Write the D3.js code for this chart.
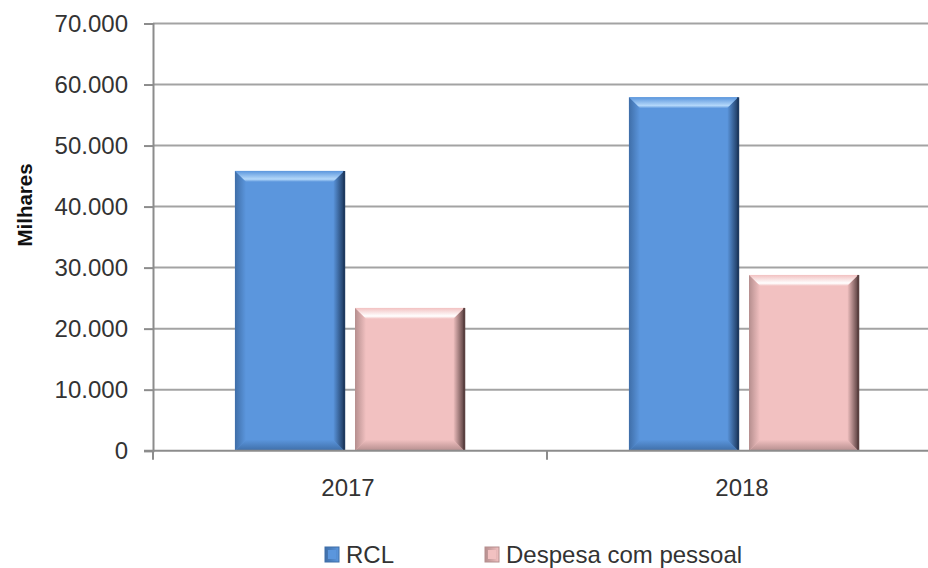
<!DOCTYPE html>
<html>
<head>
<meta charset="utf-8">
<script src="https://cdn.jsdelivr.net/npm/d3@7"></script>
<style>
  body { margin: 0; background: #fff; }
  svg { display: block; font-family: "Liberation Sans", Arial, sans-serif; }
</style>
</head>
<body>
<svg width="928" height="568"></svg>
<script>
// data (milhares)
const years = ["2017", "2018"];
const series = ["RCL", "Despesa com pessoal"];
const rcl = [45850, 57900];
const despesa = [23400, 28800];
const yTicks = [0, 10000, 20000, 30000, 40000, 50000, 60000, 70000];

const colors = {
  "RCL": { main: "#5b96dd", light: "#b4d8fa", dark: "#1e3a60", shade: "#3f6ea8" },
  "Despesa com pessoal": { main: "#f2c1c1", light: "#ffffff", dark: "#5a4040", shade: "#b58e8e" }
};

const svg = d3.select("svg"),
    width = +svg.attr("width"),
    height = +svg.attr("height");

const plotLeft = 153, plotTop = 23.5, plotBottom = 450.7;

const ptBR = d3.formatLocale({ decimal: ",", thousands: ".", grouping: [3], currency: ["R$", ""] });
const fmt = ptBR.format(",.0f");

const y = d3.scaleLinear().domain([0, 70000]).range([plotBottom, plotTop]);
const x0 = d3.scaleBand().domain(years).range([plotLeft, plotLeft + 2 * 394]);
const x1 = d3.scaleBand().domain(series)
    .range([x0.bandwidth() * 0.208, x0.bandwidth() * 0.79])
    .paddingInner(0.09);

const rows = years.map((yr, i) => ({ year: yr, values: [
  { key: series[0], value: rcl[i] },
  { key: series[1], value: despesa[i] }
]}));

// gradients for the bevel facets
const defs = svg.append("defs");
series.forEach((s, i) => {
  const c = colors[s];
  const topG = defs.append("linearGradient").attr("id", "top" + i).attr("x1", 0).attr("y1", 0).attr("x2", 0).attr("y2", 1);
  topG.append("stop").attr("offset", "0%").attr("stop-color", c.main);
  topG.append("stop").attr("offset", "75%").attr("stop-color", c.light);
  topG.append("stop").attr("offset", "100%").attr("stop-color", c.main);
  const rightG = defs.append("linearGradient").attr("id", "right" + i).attr("x1", 0).attr("y1", 0).attr("x2", 1).attr("y2", 0);
  rightG.append("stop").attr("offset", "0%").attr("stop-color", c.main);
  rightG.append("stop").attr("offset", "100%").attr("stop-color", c.dark);
  const leftG = defs.append("linearGradient").attr("id", "left" + i).attr("x1", 0).attr("y1", 0).attr("x2", 1).attr("y2", 0);
  leftG.append("stop").attr("offset", "0%").attr("stop-color", c.shade);
  leftG.append("stop").attr("offset", "100%").attr("stop-color", c.main);
  const botG = defs.append("linearGradient").attr("id", "bot" + i).attr("x1", 0).attr("y1", 0).attr("x2", 0).attr("y2", 1);
  botG.append("stop").attr("offset", "0%").attr("stop-color", c.main);
  botG.append("stop").attr("offset", "100%").attr("stop-color", c.shade);
});

// gridlines
svg.append("g")
  .selectAll("line")
  .data(yTicks.slice(1))
  .enter().append("line")
  .attr("x1", plotLeft).attr("x2", width)
  .attr("y1", d => y(d)).attr("y2", d => y(d))
  .attr("stroke", "#a3a3a3").attr("stroke-width", 2);

// y axis
const yAxis = svg.append("g")
  .attr("transform", `translate(${plotLeft},0)`)
  .call(d3.axisLeft(y).tickValues(yTicks).tickFormat(fmt).tickSize(9).tickPadding(16));
yAxis.select(".domain").attr("stroke", "#8c8c8c").attr("stroke-width", 2);
yAxis.selectAll(".tick line").attr("stroke", "#8c8c8c").attr("stroke-width", 2);
yAxis.selectAll(".tick text").attr("font-size", 24).attr("fill", "#333").attr("font-family", "Liberation Sans, Arial, sans-serif");

svg.append("text")
  .attr("transform", "translate(32,205) rotate(-90)")
  .attr("text-anchor", "middle")
  .attr("font-size", 20.5).attr("font-weight", "bold").attr("fill", "#111")
  .text("Milhares");

// bars
const group = svg.append("g")
  .selectAll("g")
  .data(rows)
  .enter().append("g")
  .attr("transform", d => `translate(${x0(d.year)},0)`);

const b = 11;
const bar = group.selectAll("g")
  .data(d => d.values)
  .enter().append("g");

bar.each(function (d) {
  const i = series.indexOf(d.key);
  const g = d3.select(this);
  const xa = x1(d.key), xb = xa + x1.bandwidth();
  const ya = y(d.value), yb = y(0);
  g.append("rect").attr("x", xa).attr("y", ya).attr("width", xb - xa).attr("height", yb - ya)
    .attr("fill", colors[d.key].main);
  const poly = (pts, fill) => g.append("polygon")
    .attr("points", pts.map(p => p.join(",")).join(" ")).attr("fill", fill);
  poly([[xa, ya], [xb, ya], [xb - b, ya + b], [xa + b, ya + b]], `url(#top${i})`);
  poly([[xa, yb], [xb, yb], [xb - b, yb - b], [xa + b, yb - b]], `url(#bot${i})`);
  poly([[xa, ya], [xa + b, ya + b], [xa + b, yb - b], [xa, yb]], `url(#left${i})`);
  poly([[xb, ya], [xb, yb], [xb - b, yb - b], [xb - b, ya + b]], `url(#right${i})`);
  g.append("line").attr("x1", xb).attr("x2", xb).attr("y1", ya).attr("y2", yb)
    .attr("stroke", colors[d.key].dark).attr("stroke-width", 2);
});

// x axis
const xAxis = svg.append("g")
  .attr("transform", `translate(0,${plotBottom})`);
xAxis.append("line")
  .attr("x1", plotLeft - 9).attr("x2", width)
  .attr("stroke", "#8c8c8c").attr("stroke-width", 2);
xAxis.selectAll(".sep")
  .data(years.concat(["end"]))
  .enter().append("line")
  .attr("x1", (d, i) => plotLeft + i * x0.step()).attr("x2", (d, i) => plotLeft + i * x0.step())
  .attr("y1", 0).attr("y2", 9)
  .attr("stroke", "#8c8c8c").attr("stroke-width", 2);
xAxis.selectAll(".lbl")
  .data(years)
  .enter().append("text")
  .attr("x", d => x0(d) + x0.bandwidth() / 2 - 2)
  .attr("y", 45)
  .attr("text-anchor", "middle")
  .attr("font-size", 24).attr("fill", "#333")
  .text(d => d);

// legend
const legendX = [325, 485];
const legend = svg.append("g")
  .selectAll("g")
  .data(series)
  .enter().append("g")
  .attr("transform", (d, i) => `translate(${legendX[i]},547)`);
legend.append("rect")
  .attr("width", 14).attr("height", 15)
  .attr("fill", (d, i) => `url(#left${i})`)
  .attr("stroke", d => colors[d].shade).attr("stroke-width", 1);
legend.append("rect")
  .attr("x", 3).attr("y", 3).attr("width", 8).attr("height", 9)
  .attr("fill", d => colors[d].main);
legend.append("text")
  .attr("x", 21).attr("y", 15.5)
  .attr("font-size", 24).attr("fill", "#333")
  .text(d => d);
</script>
</body>
</html>
